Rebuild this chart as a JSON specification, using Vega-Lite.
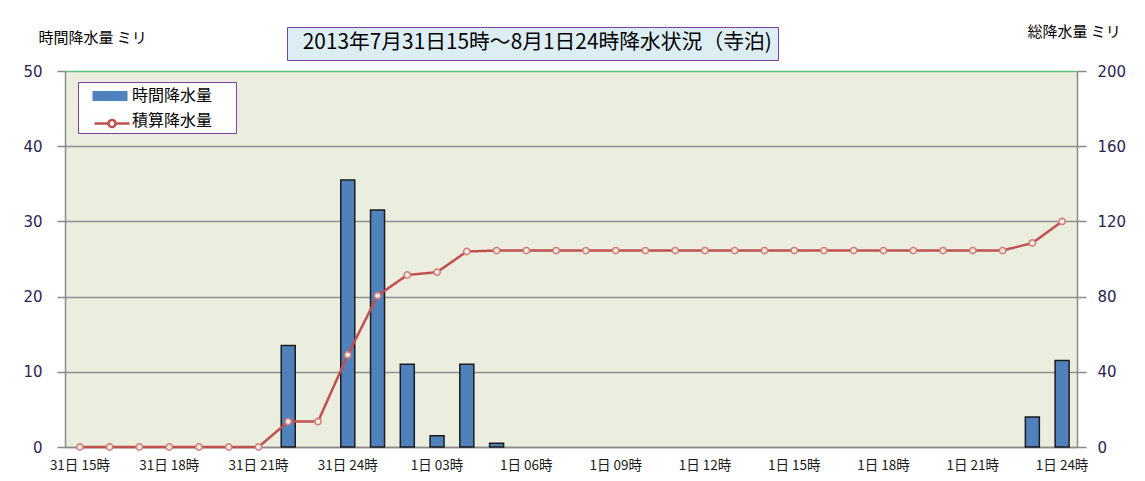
{
  "$schema": "https://vega.github.io/schema/vega-lite/v6.json",
  "width": 1012,
  "height": 376,
  "autosize": {"type": "none"},
  "padding": {"left": 65, "top": 71, "right": 68, "bottom": 34},
  "background": "white",
  "config": {
    "font": "Noto Sans CJK JP",
    "view": {"fill": "#EBEEDE", "stroke": null},
    "axis": {
      "labelFont": "Noto Sans CJK JP",
      "titleFont": "Noto Sans CJK JP",
      "titleFontWeight": "normal",
      "titleColor": "#000000",
      "domainColor": "#8a8a8a",
      "domainWidth": 1.5,
      "tickColor": "#8a8a8a",
      "tickWidth": 1.5,
      "gridColor": "#8f8f8f",
      "gridWidth": 1.5
    }
  },
  "data": {
    "values": [
      {"time": "31日 15時", "rain": 0, "total": 0},
      {"time": "31日 16時", "rain": 0, "total": 0},
      {"time": "31日 17時", "rain": 0, "total": 0},
      {"time": "31日 18時", "rain": 0, "total": 0},
      {"time": "31日 19時", "rain": 0, "total": 0},
      {"time": "31日 20時", "rain": 0, "total": 0},
      {"time": "31日 21時", "rain": 0, "total": 0},
      {"time": "31日 22時", "rain": 13.5, "total": 13.5},
      {"time": "31日 23時", "rain": 0, "total": 13.5},
      {"time": "31日 24時", "rain": 35.5, "total": 49},
      {"time": "1日 01時", "rain": 31.5, "total": 80.5},
      {"time": "1日 02時", "rain": 11, "total": 91.5},
      {"time": "1日 03時", "rain": 1.5, "total": 93},
      {"time": "1日 04時", "rain": 11, "total": 104},
      {"time": "1日 05時", "rain": 0.5, "total": 104.5},
      {"time": "1日 06時", "rain": 0, "total": 104.5},
      {"time": "1日 07時", "rain": 0, "total": 104.5},
      {"time": "1日 08時", "rain": 0, "total": 104.5},
      {"time": "1日 09時", "rain": 0, "total": 104.5},
      {"time": "1日 10時", "rain": 0, "total": 104.5},
      {"time": "1日 11時", "rain": 0, "total": 104.5},
      {"time": "1日 12時", "rain": 0, "total": 104.5},
      {"time": "1日 13時", "rain": 0, "total": 104.5},
      {"time": "1日 14時", "rain": 0, "total": 104.5},
      {"time": "1日 15時", "rain": 0, "total": 104.5},
      {"time": "1日 16時", "rain": 0, "total": 104.5},
      {"time": "1日 17時", "rain": 0, "total": 104.5},
      {"time": "1日 18時", "rain": 0, "total": 104.5},
      {"time": "1日 19時", "rain": 0, "total": 104.5},
      {"time": "1日 20時", "rain": 0, "total": 104.5},
      {"time": "1日 21時", "rain": 0, "total": 104.5},
      {"time": "1日 22時", "rain": 0, "total": 104.5},
      {"time": "1日 23時", "rain": 4, "total": 108.5},
      {"time": "1日 24時", "rain": 11.5, "total": 120}
    ]
  },
  "encoding": {
    "x": {
      "field": "time",
      "type": "ordinal",
      "sort": null,
      "scale": {
        "type": "band",
        "paddingInner": 0,
        "paddingOuter": 0,
        "domain": ["31日 15時", "31日 16時", "31日 17時", "31日 18時", "31日 19時", "31日 20時", "31日 21時", "31日 22時", "31日 23時", "31日 24時", "1日 01時", "1日 02時", "1日 03時", "1日 04時", "1日 05時", "1日 06時", "1日 07時", "1日 08時", "1日 09時", "1日 10時", "1日 11時", "1日 12時", "1日 13時", "1日 14時", "1日 15時", "1日 16時", "1日 17時", "1日 18時", "1日 19時", "1日 20時", "1日 21時", "1日 22時", "1日 23時", "1日 24時"]
      },
      "axis": {
        "title": null,
        "values": ["31日 15時", "31日 18時", "31日 21時", "31日 24時", "1日 03時", "1日 06時", "1日 09時", "1日 12時", "1日 15時", "1日 18時", "1日 21時", "1日 24時"],
        "labelAngle": 0,
        "labelFontSize": 13.5,
        "labelColor": "#1a1a1a",
        "labelPadding": 11,
        "ticks": false,
        "grid": false
      }
    }
  },
  "layer": [
    {
      "transform": [{"filter": "datum.rain > 0"}],
      "mark": {"type": "bar", "size": 14, "stroke": "#1c1c1c", "strokeWidth": 1.5},
      "encoding": {
        "y": {
          "field": "rain",
          "type": "quantitative",
          "scale": {"domain": [0, 50], "nice": false, "zero": true},
          "axis": {
            "orient": "left",
            "values": [0, 10, 20, 30, 40, 50],
            "title": "時間降水量 ミリ",
            "titleFontSize": 15,
            "titleAngle": 0,
            "titleAlign": "left",
            "titleBaseline": "middle",
            "titleX": -27,
            "titleY": -34,
            "labelFont": "DejaVu Sans",
            "labelFontSize": 15,
            "labelColor": "#2a2550",
            "labelPadding": 15,
            "tickSize": 8,
            "grid": true,
            "gridColor": {"condition": {"test": "datum.value === 50", "value": "#58C47E"}, "value": "#8f8f8f"}
          }
        },
        "color": {
          "datum": "時間降水量",
          "type": "nominal",
          "scale": {"domain": ["時間降水量", "積算降水量"], "range": ["#4F81BD", "rgba(255,255,255,0)"]},
          "legend": {
            "orient": "none",
            "legendX": 13,
            "legendY": 11,
            "title": null,
            "direction": "vertical",
            "fillColor": "#FFFFFF",
            "strokeColor": "#7F3FA8",
            "padding": 4,
            "rowPadding": 7,
            "symbolSize": 400,
            "symbolType": "M-1.75,-0.5H1.75V0.5H-1.75Z",
            "symbolStrokeWidth": 0,
            "symbolOpacity": 1,
            "symbolOffset": 18,
            "labelOffset": 12,
            "labelFontSize": 16,
            "labelColor": "#000000",
            "labelExpr": "datum.label + '  ⠀'"
          }
        }
      }
    },
    {
      "layer": [
        {
          "mark": {"type": "line", "strokeWidth": 2.5, "stroke": "#C0504D"},
          "encoding": {
            "y": {
              "field": "total",
              "type": "quantitative",
              "scale": {"domain": [0, 200], "nice": false, "zero": true},
              "axis": {
                "orient": "right",
                "values": [0, 40, 80, 120, 160, 200],
                "title": "総降水量  ミリ",
                "titleFontSize": 15,
                "titleAngle": 0,
                "titleAlign": "left",
                "titleBaseline": "middle",
                "titleX": -50,
                "titleY": -40,
                "labelFont": "DejaVu Sans",
                "labelFontSize": 15,
                "labelColor": "#2a2550",
                "labelPadding": 11,
                "tickSize": 9,
                "grid": false
              }
            },
            "strokeDash": {
              "datum": "積算降水量",
              "type": "nominal",
              "scale": {"range": [[1, 0]]},
              "legend": {
                "orient": "none",
                "legendX": 35.5,
                "legendY": 41,
                "title": null,
                "padding": 0,
                "symbolSize": 400,
                "symbolType": "M-1.75,0H-0.35M0.35,0H1.75M-0.35,0A0.35,0.35 0 1,1 0.35,0A0.35,0.35 0 1,1 -0.35,0",
                "symbolStrokeColor": "#C0504D",
                "symbolFillColor": "#FFFFFF",
                "symbolStrokeWidth": 2.5,
                "symbolOpacity": 1,
                "symbolOffset": 0,
                "labelFontSize": 1,
                "labelOpacity": 0,
                "labelExpr": "''"
              }
            }
          }
        },
        {
          "mark": {"type": "point", "filled": false, "size": 40, "strokeWidth": 1.5, "stroke": "#D9777A", "fill": "#EBEEDE", "fillOpacity": 1, "opacity": 1},
          "encoding": {
            "y": {"field": "total", "type": "quantitative"},
            "shape": {
              "datum": "2013年7月31日15時～8月1日24時降水状況（寺泊)",
              "type": "nominal",
              "scale": {"range": ["circle"]},
              "legend": {
                "orient": "none",
                "legendX": 222,
                "legendY": -44,
                "title": null,
                "fillColor": "#DCEEF3",
                "strokeColor": "#7F3FA8",
                "padding": 6,
                "symbolSize": 0,
                "symbolOpacity": 0,
                "symbolOffset": 0,
                "labelOffset": -11,
                "labelFontSize": 20.8,
                "labelColor": "#000000",
                "labelLimit": 0
              }
            }
          }
        }
      ]
    }
  ],
  "resolve": {"scale": {"y": "independent"}}
}
